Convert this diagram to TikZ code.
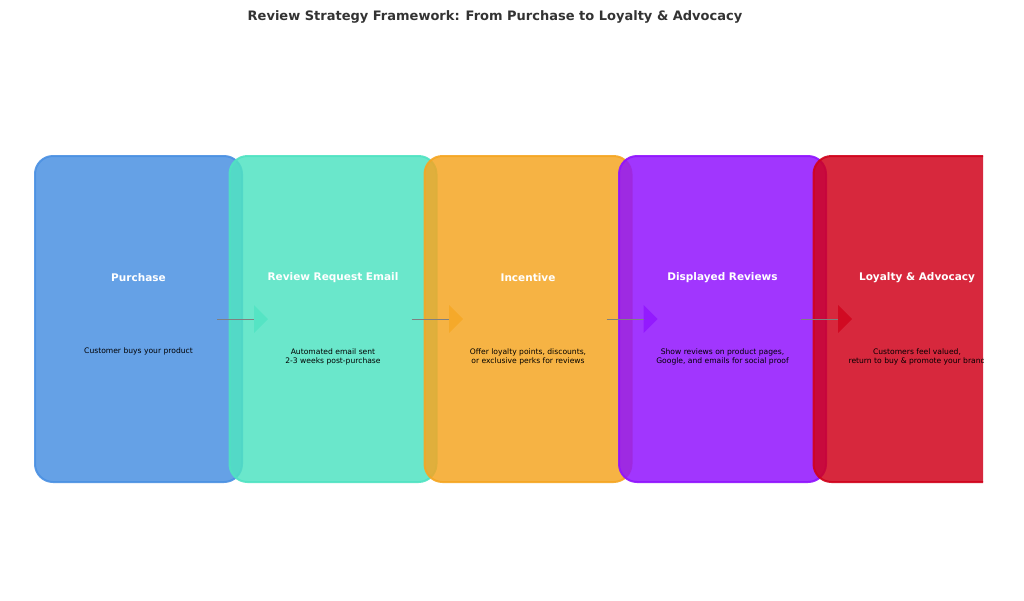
\documentclass[tikz,border=0pt]{standalone}
\usepackage{fontspec}
\setmainfont{DejaVu Sans}
\usepackage{tikz}
\definecolor{cPurchase}{HTML}{4A90E2}
\definecolor{cEmail}{HTML}{50E3C2}
\definecolor{cIncentive}{HTML}{F5A623}
\definecolor{cDisplayed}{HTML}{9013FE}
\definecolor{cLoyalty}{HTML}{D0021B}
\tikzset{
  stage/.style={draw=#1, line width=2pt, fill=#1, fill opacity=0.85, draw opacity=0.9,
    rounded corners=18pt, minimum width=207pt, minimum height=326pt, inner sep=0pt},
  title/.style={text=white, font=\fontsize{10.5}{12}\selectfont\bfseries},
  desc/.style={align=center, font=\fontsize{7.6}{9.2}\selectfont},
  tip/.style={fill=#1, fill opacity=0.8}
}
\begin{document}
\begin{tikzpicture}[x=1pt,y=-1pt]
\useasboundingbox (0,0) rectangle (1024,600);
\node[font=\fontsize{13}{15}\selectfont\bfseries, text=black!80] (head) at (495,17)
  {Review Strategy Framework: From Purchase to Loyalty \& Advocacy};
\begin{scope}
\clip (0,100) rectangle (983,520);
\node[stage=cPurchase] (b1) at (138.5,319) {};
\node[stage=cEmail] (b2) at (333,319) {};
\node[stage=cIncentive] (b3) at (528,319) {};
\node[stage=cDisplayed] (b4) at (722.5,319) {};
\node[stage=cLoyalty] (b5) at (917,319) {};
% labels
\node[title] (t1) at (138.5,278) {Purchase};
\node[title] (t2) at (333,278) {Review Request Email};
\node[title] (t3) at (528,278) {Incentive};
\node[title] (t4) at (722.5,278) {Displayed Reviews};
\node[title] (t5) at (917,278) {Loyalty \& Advocacy};
\node[desc] (d1) at (138.5,351) {Customer buys your product};
\node[desc] (d2) at (333,357) {Automated email sent\\2-3 weeks post-purchase};
\node[desc] (d3) at (528,357) {Offer loyalty points, discounts,\\or exclusive perks for reviews};
\node[desc] (d4) at (722.5,357) {Show reviews on product pages,\\Google, and emails for social proof};
\node[desc] (d5) at (917,357) {Customers feel valued,\\return to buy \& promote your brand};
% arrows
\foreach \a/\b/\c in {b1/b2/cEmail, b2/b3/cIncentive, b3/b4/cDisplayed, b4/b5/cLoyalty}{
  \draw[gray, line width=1pt] ([xshift=-26pt]\a.east) -- ([xshift=25.5pt]\b.west);
  \fill[tip=\c] ([xshift=25.5pt,yshift=-14pt]\b.west) -- ([xshift=39.5pt]\b.west)
    -- ([xshift=25.5pt,yshift=14pt]\b.west) -- cycle;
}
\end{scope}
\end{tikzpicture}
\end{document}
